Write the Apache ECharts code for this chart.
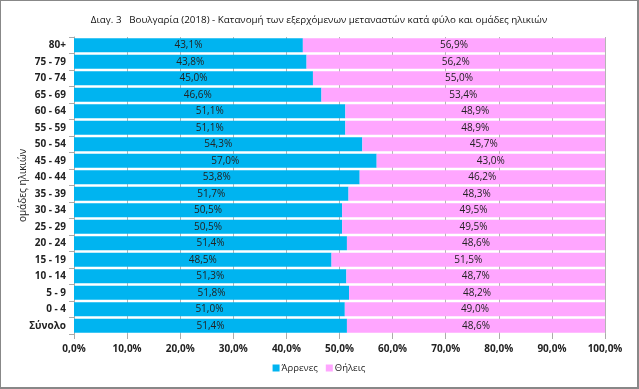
<!DOCTYPE html>
<html><head><meta charset="utf-8">
<script src="https://cdn.jsdelivr.net/npm/echarts@6/dist/echarts.min.js"></script>
<style>html,body{margin:0;padding:0;background:#fff}
#c{width:639px;height:389px;box-sizing:border-box;border:1px solid #888;border-right-width:2px;border-bottom-width:2px}</style>
</head><body><div id="c"></div>
<script>
const title = 'Διαγ. 3   Βουλγαρία (2018) - Κατανομή των εξερχόμενων μεταναστών κατά φύλο και ομάδες ηλικιών';
const categories = ['80+','75 - 79','70 - 74','65 - 69','60 - 64','55 - 59','50 - 54','45 - 49','40 - 44','35 - 39','30 - 34','25 - 29','20 - 24','15 - 19','10 - 14','5 - 9','0 - 4','Σύνολο'];
const males   = [43.1,43.8,45.0,46.6,51.1,51.1,54.3,57.0,53.8,51.7,50.5,50.5,51.4,48.5,51.3,51.8,51.0,51.4];
const females = [56.9,56.2,55.0,53.4,48.9,48.9,45.7,43.0,46.2,48.3,49.5,49.5,48.6,51.5,48.7,48.2,49.0,48.6];
const seriesNames = ['Άρρενες','Θήλεις'];
const yAxisName = 'ομάδες ηλικιών';
const fmt = v => v.toFixed(1).replace('.', ',') + '%';
const font = 'Open Sans';
const chart = echarts.init(document.getElementById('c'));
const lbl = {show:true, position:'inside', color:'#222', fontSize:10, fontFamily:font, formatter:p=>fmt(p.value)};
chart.setOption({
  animation:false,
  title:{text:title,left:'center',top:9,textStyle:{fontSize:9.8,fontWeight:500,color:'#111',fontFamily:font}},
  grid:{left:73,right:32,top:36,bottom:53},
  legend:{bottom:9,left:'center',itemWidth:7,itemHeight:7,itemGap:8,icon:'rect',
    textStyle:{fontSize:9.5,color:'#222',fontFamily:font,padding:[0,0,0,-3]},data:seriesNames},
  xAxis:{type:'value',min:0,max:100,interval:10,
    axisLabel:{formatter:v=>v.toFixed(1).replace('.',',')+'%',fontSize:10,fontWeight:'bold',color:'#222',fontFamily:font,margin:10},
    axisLine:{show:false},axisTick:{show:true,length:5,lineStyle:{color:'#aaa'}},
    splitLine:{show:true,lineStyle:{color:'#b5b5b5'}}},
  yAxis:{type:'category',inverse:true,data:categories,name:yAxisName,nameLocation:'middle',nameGap:46,nameMoveOverlap:false,
    nameTextStyle:{fontSize:10,color:'#222',fontFamily:font},
    axisLabel:{fontSize:10,fontWeight:'bold',color:'#222',fontFamily:font,margin:8},
    axisLine:{show:true,lineStyle:{color:'#aaa'}},axisTick:{show:true,length:5,lineStyle:{color:'#aaa'}}},
  series:[
    {name:seriesNames[0],type:'bar',stack:'a',data:males,barCategoryGap:'14%',
     itemStyle:{color:'#00B4F0'},label:lbl},
    {name:seriesNames[1],type:'bar',stack:'a',data:females,
     itemStyle:{color:'#FFA6FF'},label:lbl}
  ]
});
</script></body></html>
